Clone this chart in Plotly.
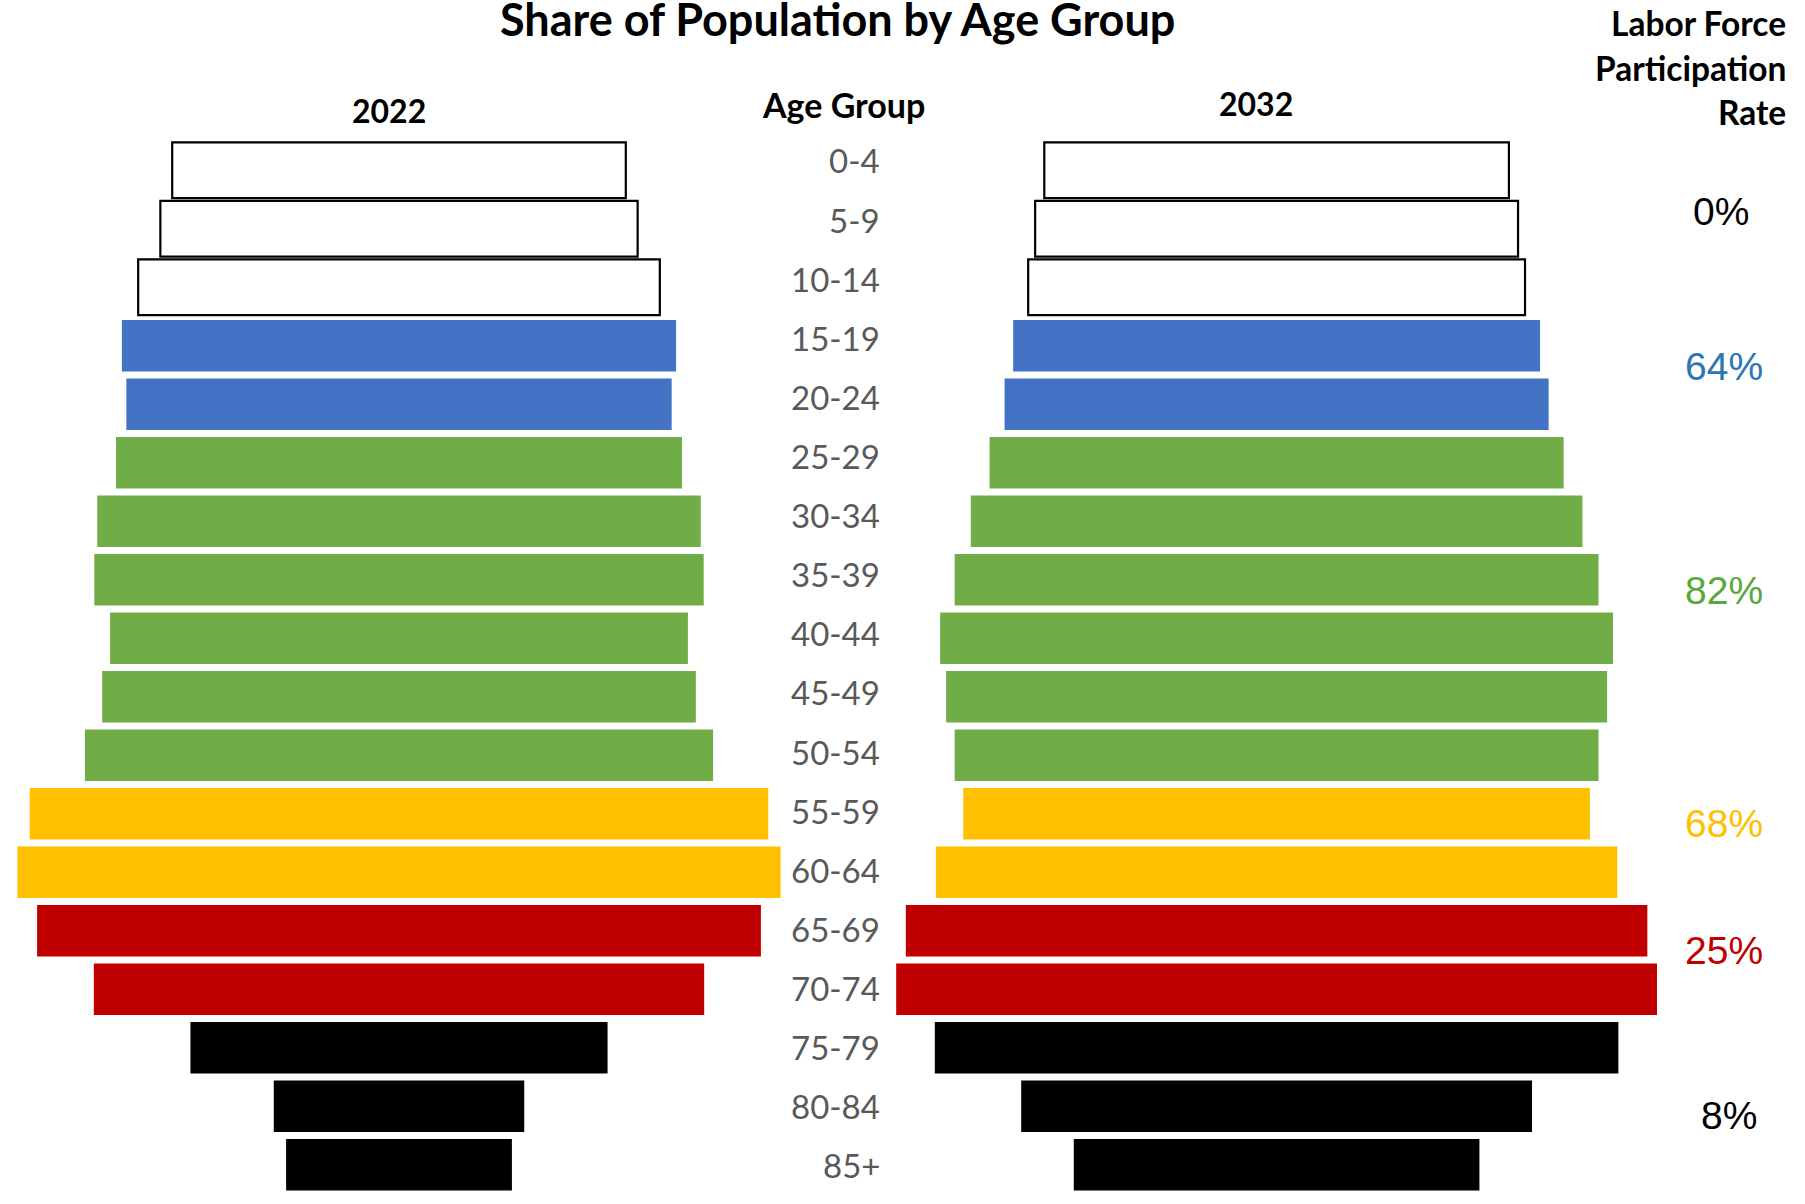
import plotly.graph_objects as go

# ---------------- data ----------------
age_groups = ["0-4", "5-9", "10-14", "15-19", "20-24", "25-29", "30-34", "35-39",
              "40-44", "45-49", "50-54", "55-59", "60-64", "65-69", "70-74",
              "75-79", "80-84", "85+"]
pop_2022 = [4.60, 4.84, 5.29, 5.62, 5.53, 5.74, 6.12, 6.18, 5.86, 6.02, 6.37,
            7.49, 7.74, 7.34, 6.19, 4.23, 2.54, 2.29]
pop_2032 = [4.33, 4.50, 4.63, 4.91, 5.07, 5.35, 5.70, 6.00, 6.27, 6.16, 6.00,
            5.84, 6.35, 6.91, 7.09, 6.37, 4.76, 3.78]
age_bands = ["under16"] * 3 + ["16-24"] * 2 + ["25-54"] * 6 + ["55-64"] * 2 + \
            ["65-74"] * 2 + ["75+"] * 3
lfpr_bands = ["under16", "16-24", "25-54", "55-64", "65-74", "75+"]
lfpr_labels = ["0%", "64%", "82%", "68%", "25%", "8%"]

# ---------------- styles ----------------
band_fill = {"under16": "#FFFFFF", "16-24": "#4472C4", "25-54": "#70AD47",
             "55-64": "#FFC000", "65-74": "#C00000", "75+": "#000000"}
band_text = {"under16": "#000000", "16-24": "#2E75B6", "25-54": "#5BA83A",
             "55-64": "#FFC000", "65-74": "#C00000", "75+": "#000000"}
band_label_pos = {"under16": (1721, 212), "16-24": (1724, 366), "25-54": (1724, 590),
                  "55-64": (1724, 823), "65-74": (1724, 951), "75+": (1729, 1115)}

W, H = 1805, 1204
T, B = 141, 10
PH = H - T - B


def py(p):
    return (H - B - p) / PH


def px(p):
    return p / W


fills = [band_fill[b] for b in age_bands]
line_colors = ["#000000" if b == "under16" else "rgba(0,0,0,0)" for b in age_bands]
line_widths = [2.2 if b == "under16" else 0 for b in age_bands]
bar_widths = [0.95 if b == "under16" else 0.88 for b in age_bands]

fig = go.Figure()
fig.add_trace(go.Bar(
    y=age_groups, x=pop_2022, base=[-v / 2 for v in pop_2022], orientation="h",
    width=bar_widths,
    marker=dict(color=fills, line=dict(color=line_colors, width=line_widths)),
    xaxis="x", yaxis="y", showlegend=False, name="2022"))
fig.add_trace(go.Bar(
    y=age_groups, x=pop_2032, base=[-v / 2 for v in pop_2032], orientation="h",
    width=bar_widths,
    marker=dict(color=fills, line=dict(color=line_colors, width=line_widths)),
    xaxis="x2", yaxis="y", showlegend=False, name="2032"))

left_c, left_scale, left_half = 399, 98.61, 399
right_c, right_scale, right_half = 1276.6, 107.31, 400

axis_off = dict(showgrid=False, zeroline=False, showticklabels=False,
                showline=False, ticks="")
fig.update_layout(
    width=W, height=H,
    margin=dict(l=0, r=0, t=T, b=B),
    paper_bgcolor="white", plot_bgcolor="white",
    xaxis=dict(domain=[px(left_c - left_half), px(left_c + left_half)],
               range=[-left_half / left_scale, left_half / left_scale],
               anchor="y", **axis_off),
    xaxis2=dict(domain=[px(right_c - right_half), px(right_c + right_half)],
                range=[-right_half / right_scale, right_half / right_scale],
                anchor="y", **axis_off),
    yaxis=dict(range=[len(age_groups) - 0.5, -0.5], type="category",
               categoryorder="array", categoryarray=age_groups, **axis_off),
)

ann = []
ann.append(dict(text="<b>Share of Population by Age Group</b>", x=px(837.5), y=py(19),
                xref="paper", yref="paper", showarrow=False, xanchor="center",
                yanchor="middle", font=dict(family="Lato", size=45, color="#000000")))
for txt, xc, yc, fs in [("2022", 389, 110, 32), ("Age Group", 843, 104, 34),
                        ("2032", 1255.6, 103, 32)]:
    ann.append(dict(text="<b>%s</b>" % txt, x=px(xc), y=py(yc), xref="paper", yref="paper",
                    showarrow=False, xanchor="center", yanchor="middle",
                    font=dict(family="Lato", size=fs, color="#000000")))
for txt, yc in [("Labor Force", 23), ("Participation", 68), ("Rate", 112)]:
    ann.append(dict(text="<b>%s</b>" % txt, x=px(1788), y=py(yc), xref="paper", yref="paper",
                    showarrow=False, xanchor="right", yanchor="middle",
                    font=dict(family="Lato", size=33.5, color="#000000")))
for i, g in enumerate(age_groups):
    ann.append(dict(text=g, x=px(882), y=py(160.5 + 59.1 * i), xref="paper", yref="paper",
                    showarrow=False, xanchor="right", yanchor="middle",
                    font=dict(family="Lato", size=33, color="#595959")))
for b, lab in zip(lfpr_bands, lfpr_labels):
    xc, yc = band_label_pos[b]
    ann.append(dict(text=lab, x=px(xc), y=py(yc), xref="paper", yref="paper",
                    showarrow=False, xanchor="center", yanchor="middle",
                    font=dict(family="Liberation Sans", size=39, color=band_text[b])))
fig.update_layout(annotations=ann)

fig.write_html("out.html")
